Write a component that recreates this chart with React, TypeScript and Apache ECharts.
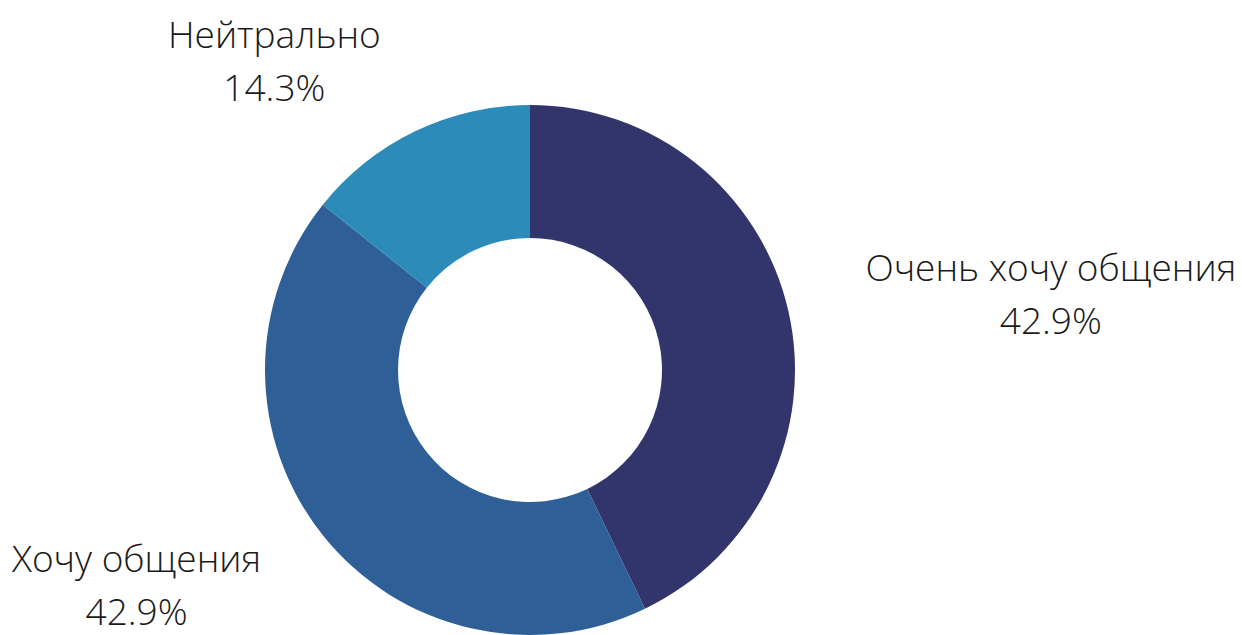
import React, { useEffect, useRef } from "react";
import * as echarts from "echarts";

const categories = ["Очень хочу общения", "Хочу общения", "Нейтрально"];
const values = [42.9, 42.9, 14.3];
const colors = ["#31356B", "#2E5F96", "#2D8BBA"];

export default function App() {
  const ref = useRef<HTMLDivElement>(null);
  useEffect(() => {
    const chart = echarts.init(ref.current!, null, { renderer: "svg" });
    chart.setOption({
      animation: false,
      backgroundColor: "#ffffff",
      series: [
        {
          type: "pie",
          center: [530, 370],
          radius: [132, 265],
          startAngle: 90,
          clockwise: true,
          avoidLabelOverlap: false,
          data: categories.map((c, i) => ({
            name: c,
            value: values[i],
            itemStyle: { color: colors[i] },
          })),
          label: {
            show: true,
            position: "outside",
            distanceToLabelLine: 0,
            formatter: (p: any) => `{a|${p.name}}\n{a|${p.value.toFixed(1)}%}`,
            rich: {
              a: {
                fontFamily: "Open Sans",
                fontWeight: 300,
                fontSize: 37,
                lineHeight: 53,
                color: "#1a1a1a",
                align: "center",
              },
            },
          },
          labelLine: { show: false, length: 79, length2: 0 },
          emphasis: { disabled: true },
        },
      ],
    });
    return () => chart.dispose();
  }, []);
  return (
    <div
      ref={ref}
      style={{ position: "fixed", left: 0, top: 0, width: 1242, height: 635 }}
    />
  );
}
